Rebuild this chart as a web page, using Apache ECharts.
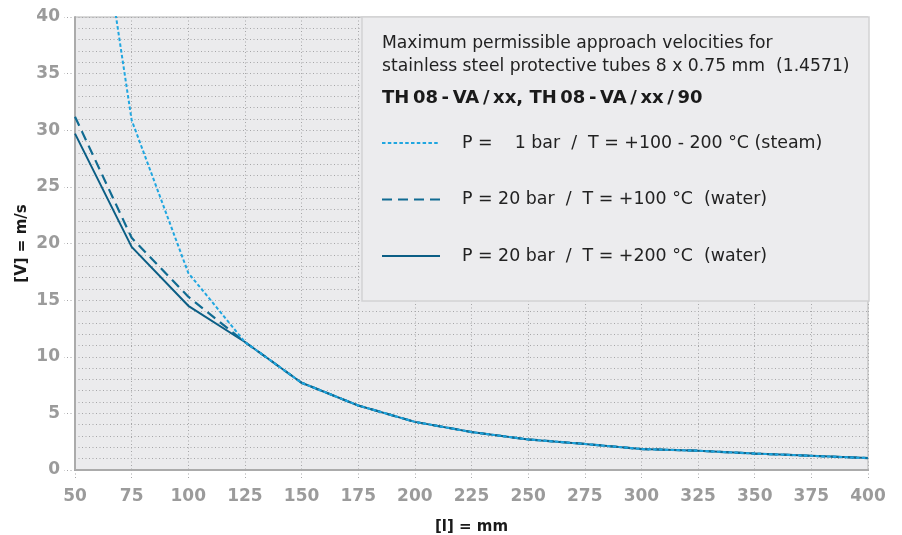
<!DOCTYPE html>
<html>
<head>
<meta charset="utf-8">
<script src="https://cdn.jsdelivr.net/npm/echarts@6/dist/echarts.min.js"></script>
<style>
html,body{margin:0;padding:0;background:#fff;}
#chart{width:902px;height:535px;}
</style>
</head>
<body>
<div id="chart"></div>
<script>
// ---- data ----
const lengths = [50, 75, 100, 125, 150, 175, 200, 225, 250, 275, 300, 325, 350, 375, 400];
const steam1bar = [64, 30.9, 17.4, 11.3, 7.7, 5.7, 4.25, 3.35, 2.7, 2.3, 1.85, 1.7, 1.45, 1.25, 1.05];
const water100 = [31.2, 20.5, 15.3, 11.3, 7.7, 5.7, 4.25, 3.35, 2.7, 2.3, 1.85, 1.7, 1.45, 1.25, 1.05];
const water200 = [29.7, 19.7, 14.5, 11.3, 7.7, 5.7, 4.25, 3.35, 2.7, 2.3, 1.85, 1.7, 1.45, 1.25, 1.05];
const seriesNames = [
  'P =    1 bar  /  T = +100 - 200 °C (steam)',
  'P = 20 bar  /  T = +100 °C  (water)',
  'P = 20 bar  /  T = +200 °C  (water)'
];
const titleLines = ['Maximum permissible approach velocities for', 'stainless steel protective tubes 8 x 0.75 mm  (1.4571)'];
const titleBold = 'TH\u200908\u2009-\u2009VA\u2009/\u2009xx, TH\u200908\u2009-\u2009VA\u2009/\u2009xx\u2009/\u200990';
const xName = '[l] = mm';
const yName = '[V] = m/s';

const pairs = arr => lengths.map((x, i) => [x, arr[i]]);
const FONT = 'DejaVu Sans';
const dotted = { color: '#a6a6a8', width: 1, type: [1, 2.5] };

const chart = echarts.init(document.getElementById('chart'), null, { renderer: 'canvas' });
chart.setOption({
  animation: false,
  textStyle: { fontFamily: FONT },
  grid: {
    left: 75, right: 34, top: 17, bottom: 65,
    containLabel: false, outerBoundsMode: 'none',
    show: true, backgroundColor: '#ebebed', borderColor: '#b4b4b4', borderWidth: 1
  },
  title: [
    { text: titleLines.join('\n'), left: 382, top: 32, padding: 0,
      textStyle: { fontFamily: FONT, fontSize: 17.2, fontWeight: 'normal', color: '#222', lineHeight: 23 } },
    { text: titleBold, left: 382, top: 89, padding: 0,
      textStyle: { fontFamily: FONT, fontSize: 18, fontWeight: 'bold', color: '#1a1a1a' } }
  ],
  graphic: [{
    type: 'rect', z: 3, silent: true,
    shape: { x: 362, y: 17, width: 507, height: 284 },
    style: { fill: '#ececee', stroke: '#d2d2d4', lineWidth: 1.5 }
  }],
  legend: {
    z: 10, padding: 0,
    orient: 'vertical', left: 381, top: 134.5,
    itemWidth: 58, itemHeight: 16, itemGap: 39.5,
    data: seriesNames,
    itemStyle: { opacity: 0 },
    textStyle: { fontFamily: FONT, fontSize: 17.4, color: '#222', padding: [0, 0, 0, 17] }
  },
  xAxis: {
    type: 'value', min: 50, max: 400, interval: 25,
    name: xName, nameLocation: 'middle', nameGap: 50,
    nameTextStyle: { fontFamily: FONT, fontSize: 15, fontWeight: 'bold', color: '#1a1a1a' },
    axisLine: { show: true, lineStyle: { color: '#ababab', width: 2 } },
    axisTick: { show: true, length: 10, lineStyle: dotted },
    axisLabel: { margin: 18, fontFamily: FONT, fontSize: 17, fontWeight: 'bold', color: '#9b9b9b' },
    splitLine: { show: true, lineStyle: dotted }
  },
  yAxis: {
    type: 'value', min: 0, max: 40, interval: 5,
    name: yName, nameLocation: 'middle', nameGap: 45, nameRotate: 90, nameMoveOverlap: false,
    nameTextStyle: { fontFamily: FONT, fontSize: 15, fontWeight: 'bold', color: '#1a1a1a' },
    axisLine: { show: true, lineStyle: { color: '#ababab', width: 2 } },
    axisTick: { show: true, length: 11, lineStyle: dotted },
    axisLabel: { margin: 15, fontFamily: FONT, fontSize: 17, fontWeight: 'bold', color: '#9b9b9b' },
    splitLine: { show: true, lineStyle: dotted },
    minorTick: { show: false, splitNumber: 5 },
    minorSplitLine: { show: true, lineStyle: dotted }
  },
  series: [
    { name: seriesNames[2], type: 'line', data: pairs(water200), symbol: 'none', z: 2, clip: true,
      lineStyle: { color: '#0b5e85', width: 2, type: 'solid' }, itemStyle: { color: '#0b5e85' } },
    { name: seriesNames[1], type: 'line', data: pairs(water100), symbol: 'none', z: 3, clip: true,
      lineStyle: { color: '#106b92', width: 2.2, type: [10, 6] }, itemStyle: { color: '#106b92' } },
    { name: seriesNames[0], type: 'line', data: pairs(steam1bar), symbol: 'none', z: 4, clip: true,
      lineStyle: { color: '#1fa6e0', width: 2, type: [3.5, 2.3] }, itemStyle: { color: '#1fa6e0' } }
  ]
});
</script>
</body>
</html>
